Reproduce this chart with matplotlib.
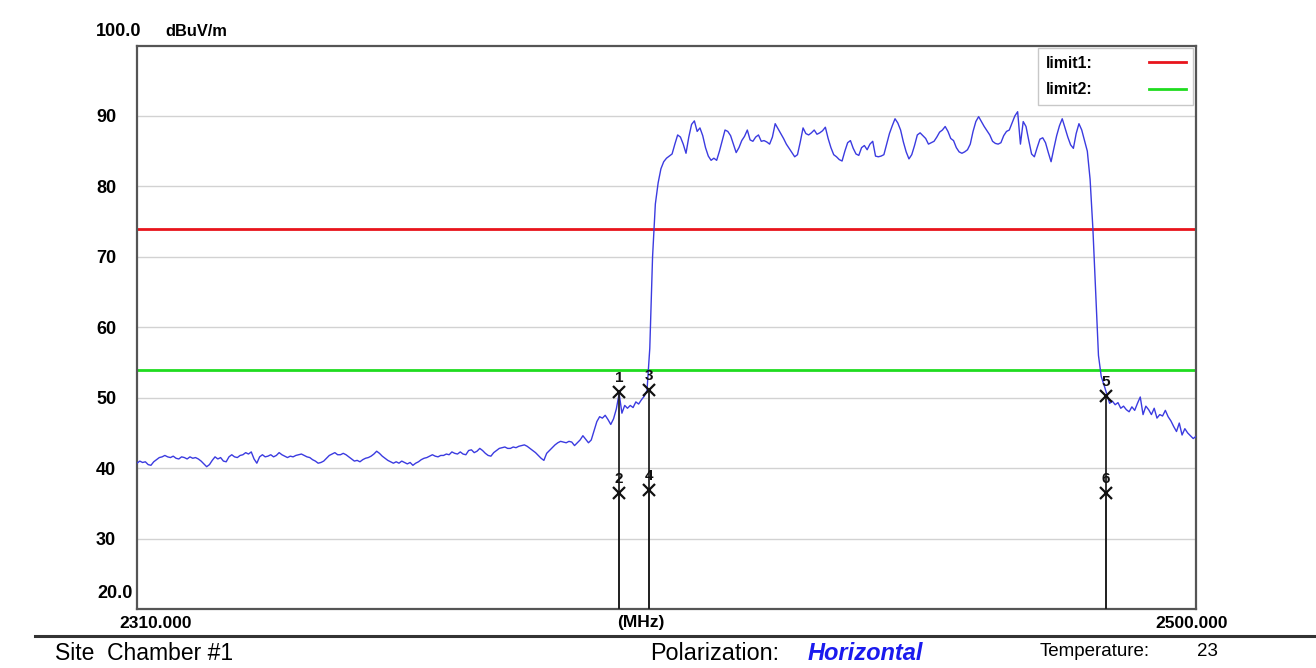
import numpy as np
import matplotlib
matplotlib.use("Agg")
import matplotlib.pyplot as plt
from matplotlib.lines import Line2D

# ---------------- data ----------------
f_start, f_stop = 2310.0, 2500.0
y_min, y_max = 20.0, 100.0
y_ticks = [30, 40, 50, 60, 70, 80, 90]

# spectrum trace, 0.5 MHz steps from 2310.0 MHz to 2500.0 MHz (dBuV/m)
levels = [
    # 2310.0
    40.7, 41.0, 40.8, 40.9, 40.5, 40.4, 40.9, 41.2, 41.5, 41.6, 41.8, 41.6, 41.5, 41.7, 41.4, 41.3, 41.6, 41.5, 41.3, 41.6,
    # 2320.0
    41.4, 41.5, 41.3, 41.0, 40.6, 40.2, 40.5, 41.1, 41.6, 41.3, 41.5, 41.0, 40.9, 41.6, 41.9, 41.6, 41.5, 41.8, 41.9, 42.2,
    # 2330.0
    42.0, 42.3, 41.3, 40.7, 41.6, 41.9, 41.6, 41.7, 41.9, 41.6, 41.8, 42.2, 41.9, 41.7, 41.5, 41.7, 41.6, 41.8, 41.9, 42.0,
    # 2340.0
    41.8, 41.6, 41.5, 41.2, 41.0, 40.7, 40.8, 41.0, 41.4, 41.8, 42.0, 42.2, 41.9, 41.9, 42.1, 41.9, 41.6, 41.3, 41.0, 41.1,
    # 2350.0
    40.9, 41.2, 41.4, 41.5, 41.7, 42.0, 42.4, 42.1, 41.7, 41.4, 41.1, 40.9, 40.7, 40.9, 40.7, 41.0, 40.8, 40.6, 40.8, 40.4,
    # 2360.0
    40.7, 40.9, 41.2, 41.4, 41.5, 41.7, 41.9, 41.7, 41.6, 41.8, 41.8, 42.0, 41.9, 42.3, 42.1, 42.0, 42.3, 42.0, 41.9, 42.5,
    # 2370.0
    42.6, 42.2, 42.4, 42.8, 42.5, 42.1, 41.8, 41.7, 42.2, 42.5, 42.8, 42.9, 43.0, 42.8, 42.8, 43.0, 42.9, 43.1, 43.2, 43.3,
    # 2380.0
    43.1, 42.8, 42.5, 42.2, 41.8, 41.4, 41.1, 42.1, 42.5, 42.9, 43.3, 43.6, 43.8, 43.7, 43.6, 43.8, 43.7, 43.2, 43.6, 44.0,
    # 2390.0
    44.6, 44.1, 43.6, 44.0, 45.3, 46.6, 47.3, 47.1, 47.5, 46.9, 46.2, 47.0, 48.4, 50.6, 47.8, 48.9, 48.5, 48.9, 48.6, 49.4,
    # 2400.0
    49.1, 49.7, 50.2, 51.0, 57.0, 70.0, 77.5, 80.5, 82.5, 83.5, 84.0, 84.3, 84.6, 86.0, 87.3, 87.0, 86.0, 84.7, 87.0, 88.8,
    # 2410.0
    89.3, 87.8, 88.3, 87.2, 85.5, 84.3, 83.7, 84.0, 83.7, 85.0, 86.5, 88.0, 87.8, 87.2, 86.0, 84.8, 85.5, 86.5, 87.1, 88.0,
    # 2420.0
    86.6, 86.4, 87.0, 87.3, 86.4, 86.5, 86.3, 86.0, 87.0, 88.9, 88.2, 87.5, 86.8, 86.0, 85.4, 84.8, 84.2, 84.5, 86.3, 88.3,
    # 2430.0
    87.5, 87.3, 87.6, 88.0, 87.4, 87.6, 87.9, 88.4, 86.8, 85.5, 84.5, 84.2, 83.8, 83.6, 85.0, 86.2, 86.5, 85.4, 84.6, 84.4,
    # 2440.0
    85.5, 85.8, 85.2, 86.0, 86.4, 84.3, 84.2, 84.3, 84.5, 86.0, 87.5, 88.6, 89.6, 89.0, 88.0, 86.3, 84.9, 83.9, 84.5, 85.8,
    # 2450.0
    87.3, 87.6, 87.2, 86.8, 86.0, 86.2, 86.4, 87.0, 87.7, 88.0, 88.5, 87.8, 86.8, 86.5, 85.5, 84.9, 84.7, 84.9, 85.2, 86.0,
    # 2460.0
    87.8, 89.2, 89.9, 89.2, 88.5, 87.9, 87.3, 86.4, 86.1, 86.0, 86.2, 87.2, 87.8, 88.0, 89.0, 90.0, 90.6, 86.0, 89.2, 88.5,
    # 2470.0
    86.5, 84.6, 84.2, 85.5, 86.7, 86.9, 86.2, 84.8, 83.5, 85.4, 87.2, 88.6, 89.6, 88.3, 87.0, 85.9, 85.4, 87.5, 88.9, 88.0,
    # 2480.0
    86.5, 85.0, 81.0, 74.0, 65.0, 56.0, 53.0, 51.8, 50.5, 49.2, 49.5, 49.0, 49.3, 48.5, 48.8, 48.3, 48.0, 48.7, 48.2, 49.2,
    # 2490.0 .. 2500.0
    50.1, 47.6, 48.8, 48.3, 47.6, 48.5, 47.1, 47.6, 47.4, 48.2, 47.3, 46.7, 45.9, 45.2, 46.4, 44.7, 45.6, 45.0, 44.6, 44.2, 44.5,
]
freqs = np.linspace(f_start, f_stop, len(levels))

limit_names = ["limit1:", "limit2:"]
limit_values = [74.0, 54.0]
limit_colors = ["#e8141c", "#1fdc1f"]

marker_ids = ["1", "2", "3", "4", "5", "6"]
marker_freqs = [2396.5, 2396.5, 2401.9, 2401.9, 2483.8, 2483.8]
marker_levels = [50.8, 36.5, 51.1, 36.9, 50.2, 36.5]

site_text = "Site  Chamber #1"
pol_label, pol_value = "Polarization:", "Horizontal"
temp_label, temp_value = "Temperature:", "23"

# ---------------- figure ----------------
W, H = 1316, 668
plt.rcParams["font.family"] = ["Liberation Sans", "DejaVu Sans"]
fig = plt.figure(figsize=(W / 100, H / 100), dpi=100)
fig.patch.set_facecolor("white")

def fx(px):
    return px / W

def fy(py):
    return 1 - py / H

ax_l, ax_r, ax_t, ax_b = 137, 1196, 45.5, 609
ax = fig.add_axes([fx(ax_l), fy(ax_b), fx(ax_r - ax_l), (ax_b - ax_t) / H])
ax.set_xlim(f_start, f_stop)
ax.set_ylim(y_min, y_max)

for s in ax.spines.values():
    s.set_color("#555555")
    s.set_linewidth(1.6)

ax.set_yticks(y_ticks)
ax.set_yticklabels([str(t) for t in y_ticks], fontsize=13, fontweight="bold")
ax.tick_params(axis="y", length=0, pad=15)
ax.set_xticks([])
for t in y_ticks:
    ax.axhline(t, color="#d2d2d2", lw=1.0, zorder=0)

# limits
for name, val, col in zip(limit_names, limit_values, limit_colors):
    ax.axhline(val, color=col, lw=2.0, label=name, zorder=2)

# trace
ax.plot(freqs, levels, color="#3b3be0", lw=1.0, zorder=3)

# markers
for mid, mf, ml in zip(marker_ids, marker_freqs, marker_levels):
    ax.plot([mf, mf], [y_min, ml], color="#222222", lw=1.3, zorder=4)
    ax.plot(mf, ml, marker="x", ms=8, mew=1.6, color="#111111", zorder=5)
    ax.text(mf, ml + 1.0, mid, ha="center", va="bottom", fontsize=11,
            fontweight="bold", color="#111111", zorder=5)

# legend (labels left, lines right)
leg = ax.legend(loc="upper right", bbox_to_anchor=(0.9975, 0.996), markerfirst=False,
                frameon=True, fancybox=False, handlelength=2.3, handletextpad=3.6,
                labelspacing=0.75, borderpad=0.5, borderaxespad=0.0,
                prop={"weight": "bold", "size": 11.3})
leg.get_frame().set_edgecolor("#bbbbbb")
leg.get_frame().set_linewidth(1.0)

# extra axis annotations
fig.text(fx(133), fy(594), f"{y_min:.1f}", ha="right", va="center", fontsize=13, fontweight="bold")
fig.text(fx(96), fy(31), f"{y_max:.1f}", ha="left", va="center", fontsize=13, fontweight="bold")
fig.text(fx(165), fy(31), "dBuV/m", ha="left", va="center", fontsize=11.8, fontweight="bold")
fig.text(fx(156), fy(623), f"{f_start:.3f}", ha="center", va="center", fontsize=12.5, fontweight="bold")
fig.text(fx(641), fy(623), "(MHz)", ha="center", va="center", fontsize=12.5, fontweight="bold")
fig.text(fx(1192), fy(623), f"{f_stop:.3f}", ha="center", va="center", fontsize=12.5, fontweight="bold")

# separator line and footer
fig.add_artist(Line2D([fx(35), 1.0], [fy(636), fy(636)], color="#333333", lw=2.2))
fig.text(fx(55), fy(653), site_text, ha="left", va="center", fontsize=16.5)
fig.text(fx(650), fy(653), pol_label, ha="left", va="center", fontsize=16.8)
fig.text(fx(808), fy(654), pol_value, ha="left", va="center", fontsize=17,
         fontweight="bold", fontstyle="italic", color="#1a1aee")
fig.text(fx(1040), fy(651), temp_label, ha="left", va="center", fontsize=13.5)
fig.text(fx(1197), fy(651), temp_value, ha="left", va="center", fontsize=13.5)

fig.savefig("out.png", dpi=100, facecolor="white")
